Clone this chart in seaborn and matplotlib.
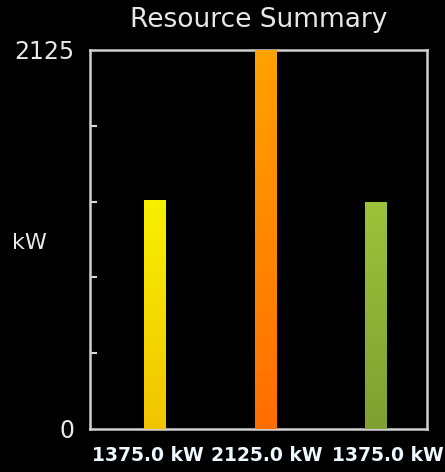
import matplotlib
matplotlib.use("Agg")
import matplotlib.pyplot as plt
import matplotlib.transforms as mtransforms
import numpy as np
import seaborn as sns
from matplotlib.colors import LinearSegmentedColormap
from matplotlib.ticker import MultipleLocator

# data
resources = ["R1", "R2", "R3"]
bar_values = [1285, 2125, 1270]
bar_labels = ["1375.0 kW", "2125.0 kW", "1375.0 kW"]
top_colors = ["#f8f000", "#ffa200", "#9cc23a"]
bottom_colors = ["#f2c400", "#ff6e00", "#7fa032"]
y_max = 2125

sns.set_theme(style="dark")
plt.rcParams["font.family"] = ["DejaVu Sans"]

fig = plt.figure(figsize=(4.45, 4.72), dpi=100, facecolor="black")
ax = fig.add_axes([90 / 445, 43 / 472, 337 / 445, 379 / 472], facecolor="black")

sns.barplot(x=resources, y=bar_values, hue=resources, palette=top_colors,
            width=0.19, legend=False, ax=ax, saturation=1, linewidth=0)

# vertical gradient on each bar
for patch, top, bottom in zip(ax.patches, top_colors, bottom_colors):
    cmap = LinearSegmentedColormap.from_list("g", [bottom, top])
    x0, y0 = patch.get_x(), patch.get_y()
    w, h = patch.get_width(), patch.get_height()
    grad = np.linspace(0, 1, 64).reshape(-1, 1)
    im = ax.imshow(grad, cmap=cmap, origin="lower", aspect="auto",
                   extent=(x0, x0 + w, y0, y0 + h), zorder=3)
    im.set_clip_path(patch)

ax.set_xlim(-0.58, 2.46)
ax.set_ylim(0, y_max)
ax.set_yticks([0, y_max])
ax.set_yticklabels(["0", str(y_max)])
ax.yaxis.set_minor_locator(MultipleLocator(y_max / 5))
ax.tick_params(axis="y", which="minor", direction="in", length=5, width=1.5,
               color="#d8d8d8", left=True)
ax.tick_params(axis="y", which="major", length=0, pad=11, labelsize=17,
               labelcolor="#e8e8e8")
ax.set_xticks(range(len(bar_labels)))
ax.set_xticklabels(bar_labels, fontweight="bold", fontsize=13.5, color="#eef8ff")
ax.tick_params(axis="x", length=0, pad=12)

# the labels in the original sit a little off the bar centres
for lbl, dx in zip(ax.get_xticklabels(), [-6, 2, 12]):
    lbl.set_transform(lbl.get_transform()
                      + mtransforms.ScaledTranslation(dx / 100, 0, fig.dpi_scale_trans))

ax.set_xlabel("")
ax.set_ylabel("")
ax.grid(False)

for side in ["left", "right", "top", "bottom"]:
    ax.spines[side].set_visible(True)
    ax.spines[side].set_color("#d0d0d0")
    ax.spines[side].set_linewidth(1.8)

fig.text(12 / 445, 1 - 243 / 472, "kW", color="#e8e8e8", fontsize=16,
         ha="left", va="center")
fig.text(259 / 445, 1 - 20 / 472, "Resource Summary", color="#e8e8e8",
         fontsize=19, ha="center", va="center")

fig.savefig("out.png", dpi=100, facecolor="black")
